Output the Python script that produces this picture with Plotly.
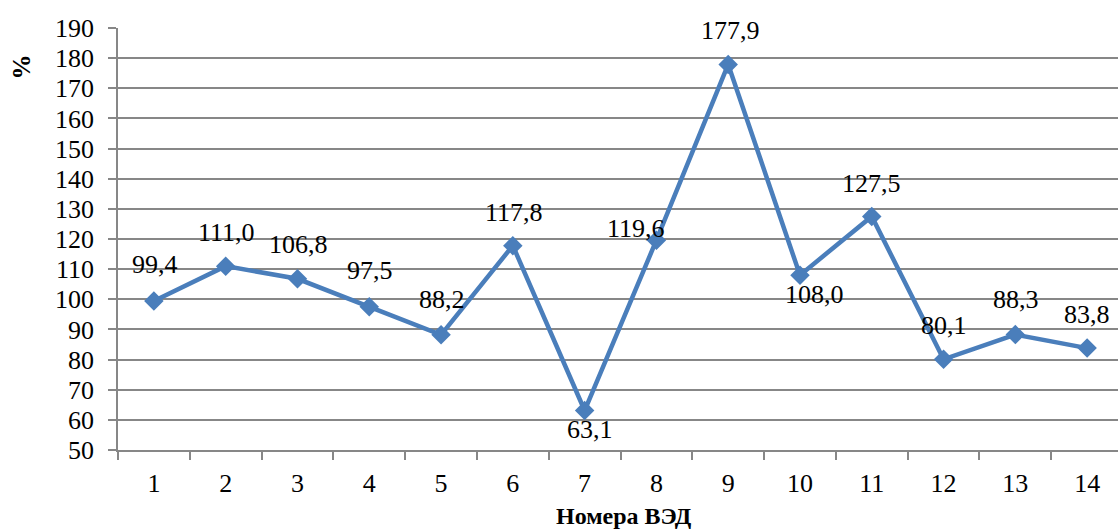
import plotly.graph_objects as go

categories = ["1", "2", "3", "4", "5", "6", "7", "8", "9", "10", "11", "12", "13", "14"]
values = [99.4, 111.0, 106.8, 97.5, 88.2, 117.8, 63.1, 119.6, 177.9, 108.0, 127.5, 80.1, 88.3, 83.8]
y_ticks = list(range(50, 191, 10))
x_title = "Номера ВЭД"
y_title = "%"

# label offsets (pixels) per point: (xshift, yshift)
label_offsets = [(1, 37), (1, 34), (1, 34), (1, 36), (1, 35), (1, 33), (5, -19), (-20, 12),
                 (2, 34), (15, -19), (0, 33), (0, 34), (1, 35), (0, 34)]

FONT = "Liberation Serif"
BLUE = "#4A7EBB"
GRID = "#878787"

fig = go.Figure()
fig.add_trace(go.Scatter(
    x=categories, y=values, mode="lines+markers",
    line=dict(color=BLUE, width=4.5),
    marker=dict(symbol="diamond", size=15, color=BLUE),
    hoverinfo="skip", showlegend=False,
))

for i, (v, (dx, dy)) in enumerate(zip(values, label_offsets)):
    fig.add_annotation(
        x=i, y=v, text=f"{v:.1f}".replace(".", ","), showarrow=False,
        xshift=dx, yshift=dy, font=dict(family=FONT, size=26, color="black"),
    )

fig.add_annotation(
    x=-0.112, y=0.942, xref="paper", yref="paper", text=f"<b>{y_title}</b>",
    textangle=-90, showarrow=False, font=dict(family=FONT, size=25, color="black"),
)
fig.add_annotation(
    x=0.506, y=-0.157, xref="paper", yref="paper", text=f"<b>{x_title}</b>",
    showarrow=False, yanchor="middle", font=dict(family=FONT, size=24, color="black"),
)

fig.update_layout(
    width=1118, height=531,
    margin=dict(l=118, r=0, t=28, b=81),
    plot_bgcolor="white", paper_bgcolor="white",
    font=dict(family=FONT, size=26, color="black"),
)
fig.update_xaxes(
    type="category", range=[-0.5, 13.43], tickson="boundaries", automargin=False,
    ticks="outside", ticklen=8, tickcolor=GRID, tickwidth=1.5,
    showgrid=False, showline=True, linecolor=GRID, linewidth=1.5,
    tickfont=dict(family=FONT, size=26, color="black"), ticklabelstandoff=9,
)
fig.update_yaxes(
    range=[50, 190], tickvals=y_ticks, ticks="outside", ticklen=8, automargin=False,
    tickcolor=GRID, tickwidth=1.5, showgrid=True, gridcolor=GRID, gridwidth=1.5,
    showline=True, linecolor=GRID, linewidth=1.5, zeroline=False,
    tickfont=dict(family=FONT, size=26, color="black"), ticklabelstandoff=9,
)

fig.write_html("out.html", config={"displayModeBar": False},
               post_script="document.body.style.margin='0';")
